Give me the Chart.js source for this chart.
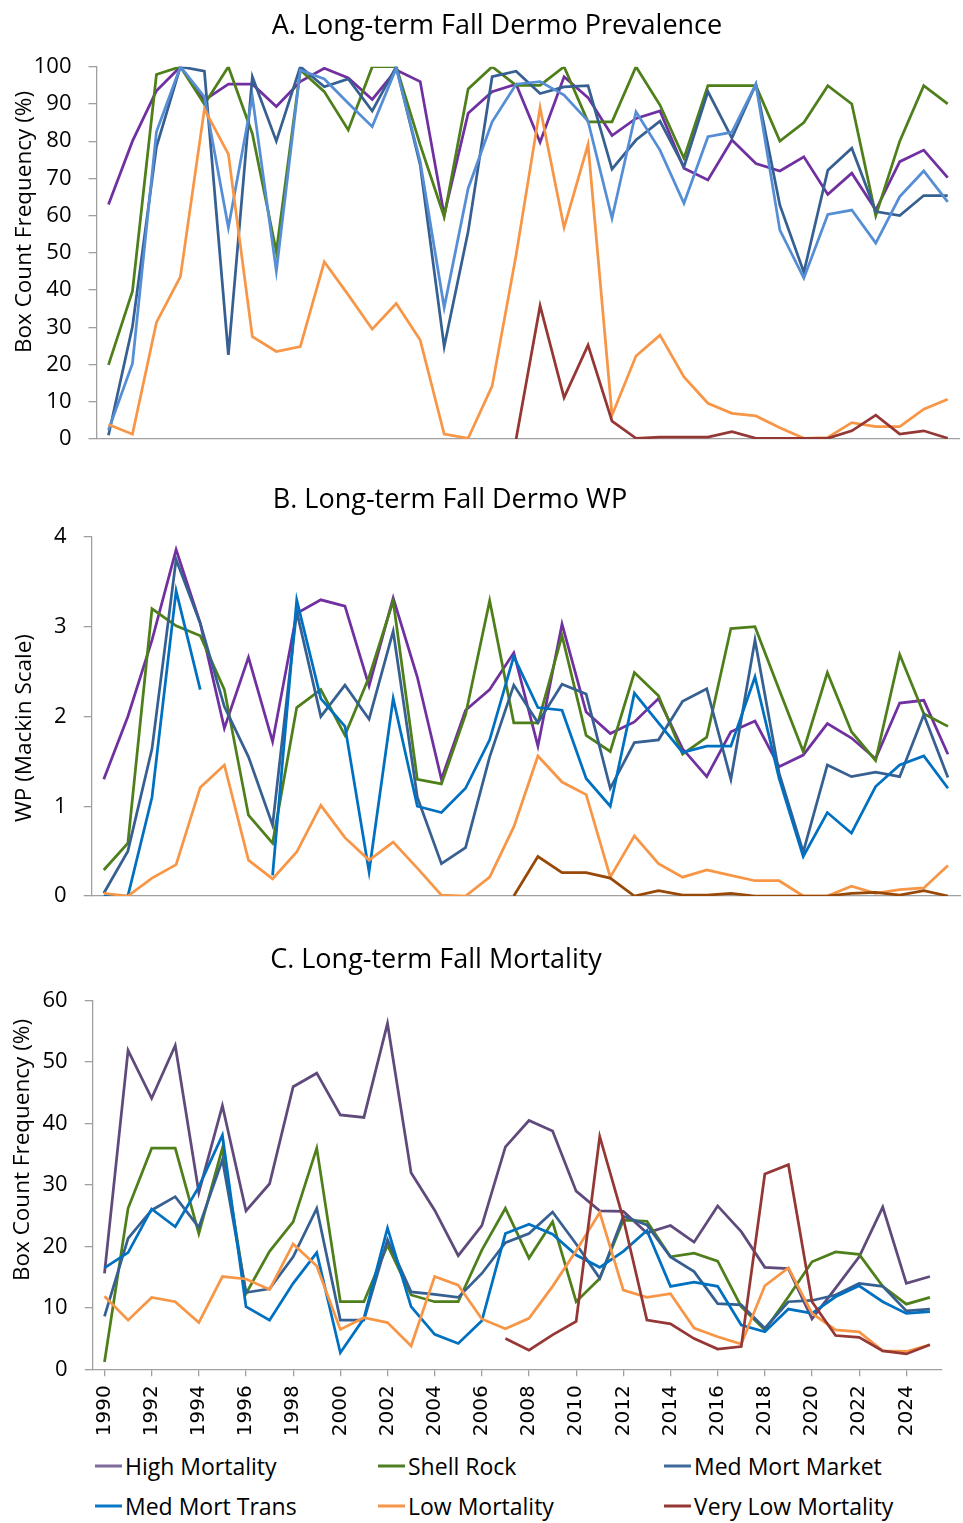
<!DOCTYPE html>
<html>
<head>
<meta charset="utf-8">
<script src="https://cdn.jsdelivr.net/npm/chart.js@4.4.1/dist/chart.umd.min.js"></script>
<style>
  body { margin: 0; background: #fff; }
  #page { position: relative; width: 963px; height: 1523px; font-family: 'Open Sans', sans-serif; color: #000; overflow: hidden; }
  .panel { position: absolute; left: 0; width: 963px; }
  .title { position: absolute; font-size: 27px; white-space: nowrap; line-height: 1; transform: translate(-50%, -50%); }
  .ytitle { position: absolute; font-size: 22.5px; white-space: nowrap; line-height: 1; transform: translate(-50%, -50%) rotate(-90deg); }
  .leg { position: absolute; display: flex; align-items: center; font-size: 23px; line-height: 1; white-space: nowrap; transform: translateY(-50%); }
  .leg .sw { display: inline-block; width: 27px; height: 3px; margin-right: 3px; }
</style>
</head>
<body>
<div id="page">
  <div class="panel" style="top:0px; height:479px;"><canvas id="chartA"></canvas></div>
  <div class="panel" style="top:480px; height:456px;"><canvas id="chartB"></canvas></div>
  <div class="panel" style="top:940px; height:500px;"><canvas id="chartC"></canvas></div>

  <div class="title" style="left:497px; top:23px;">A. Long-term Fall Dermo Prevalence</div>
  <div class="title" style="left:450px; top:497px;">B. Long-term Fall Dermo WP</div>
  <div class="title" style="left:436px; top:957px;">C. Long-term Fall Mortality</div>
  <div class="ytitle" style="left:23px; top:222px;">Box Count Frequency (%)</div>
  <div class="ytitle" style="left:23px; top:728px;">WP (Mackin Scale)</div>
  <div class="ytitle" style="left:21px; top:1150px;">Box Count Frequency (%)</div>
  <div id="legend"></div>
</div>

<script>
// categories
const years = ['1990', '1991', '1992', '1993', '1994', '1995', '1996', '1997', '1998', '1999',
               '2000', '2001', '2002', '2003', '2004', '2005', '2006', '2007', '2008', '2009',
               '2010', '2011', '2012', '2013', '2014', '2015', '2016', '2017', '2018', '2019',
               '2020', '2021', '2022', '2023', '2024', '2025'];

const seriesNames = ['High Mortality', 'Shell Rock', 'Med Mort Market', 'Med Mort Trans', 'Low Mortality', 'Very Low Mortality'];

// A. prevalence (%)
const highA = [63, 80, 93.5, 100, 91, 95.3, 95.3, 89.3, 96, 99.6, 97, 91.2, 99.1, 96, 60.2, 87.5, 93.3, 95.3,
               79.7, 97.3, 91.7, 81.5, 86.1, 88.1, 72.7, 69.6, 80.3, 74, 72, 75.8, 65.7, 71.4, 61.5, 74.5, 77.6, 70.2];
const shellA = [19.9, 39.7, 97.9, 100, 89.9, 100, 82, 50.3, 99.1, 93.3, 83, 100, 100, 79, 59.7, 94, 100, 95,
                95, 100, 85.2, 85.2, 100, 89.7, 75.4, 94.9, 94.9, 94.9, 80, 85, 94.9, 90, 60, 80, 94.9, 90];
const marketA = [1, 30.2, 78.5, 100, 98.8, 22.6, 97.3, 80, 100, 94.6, 96.7, 88.1, 100, 73.6, 24.8, 55.7, 97.3, 98.8,
                 92.8, 94.6, 94.9, 72.5, 80.3, 85.4, 73.1, 93.3, 80.8, 95.3, 62.8, 44.8, 72.2, 78.1, 61.1, 60, 65.4, 65.4];
const transA = [2.4, 20.3, 82.5, 100, 91.9, 56.8, 91.9, 45.1, 99.1, 96.7, 90.2, 83.9, 99.6, 74.5, 35.3, 67.3, 85.2, 95.3,
                96, 92.4, 85.4, 59.3, 87.9, 77.6, 63.3, 81.2, 82.4, 95.3, 56.1, 43.2, 60.3, 61.5, 52.6, 65.1, 72, 63.7];
const lowA = [3.9, 1.3, 31.3, 43.6, 88.6, 76.5, 27.5, 23.5, 24.8, 47.6, 38.7, 29.5, 36.4, 26.6, 1.3, 0.2, 14.2, 49.4,
              89, 56.8, 79.1, 6.4, 22.3, 27.9, 16.7, 9.6, 6.9, 6.2, 3, 0.2, 0.4, 4.4, 3.3, 3.3, 8, 10.7];
const veryLowA = [null, null, null, null, null, null, null, null, null, null, null, null, null, null, null, null, null, 0,
                  35.8, 11.1, 25.2, 4.8, 0.2, 0.5, 0.5, 0.5, 2, 0.2, 0.2, 0.2, 0.2, 2.2, 6.4, 1.3, 2.2, 0.2];

// B. weighted prevalence (Mackin scale)
const highB = [1.30, 2.0, 2.85, 3.86, 3.04, 1.87, 2.66, 1.72, 3.15, 3.30, 3.23, 2.34, 3.32, 2.44, 1.30, 2.07, 2.30, 2.71,
               1.67, 3.03, 2.05, 1.81, 1.94, 2.20, 1.64, 1.33, 1.83, 1.95, 1.44, 1.57, 1.92, 1.76, 1.53, 2.15, 2.18, 1.58];
const shellB = [0.29, 0.59, 3.20, 3.01, 2.90, 2.30, 0.90, 0.59, 2.10, 2.30, 1.79, 2.44, 3.29, 1.30, 1.25, 2.02, 3.29, 1.93,
                1.93, 2.90, 1.79, 1.61, 2.49, 2.23, 1.58, 1.77, 2.98, 3.00, 2.30, 1.61, 2.49, 1.83, 1.51, 2.69, 2.03, 1.89];
const marketB = [0.03, 0.50, 1.64, 3.75, 3.04, 2.11, 1.55, 0.79, 3.17, 2.0, 2.35, 1.97, 2.95, 1.10, 0.36, 0.54, 1.55, 2.35,
                 1.93, 2.36, 2.25, 1.20, 1.71, 1.74, 2.17, 2.31, 1.30, 2.85, 1.37, 0.49, 1.46, 1.33, 1.38, 1.33, 2.02, 1.32];
const transB = [0, 0, 1.10, 3.40, 2.30, null, null, 0.23, 3.30, 2.20, 1.89, 0.27, 2.20, 1.00, 0.93, 1.20, 1.74, 2.67,
                2.10, 2.07, 1.31, 1.00, 2.26, 1.93, 1.60, 1.67, 1.67, 2.44, 1.31, 0.44, 0.93, 0.70, 1.22, 1.46, 1.56, 1.20];
const lowB = [0.03, 0, 0.20, 0.35, 1.21, 1.46, 0.40, 0.19, 0.49, 1.01, 0.65, 0.40, 0.60, 0.31, 0.01, 0, 0.21, 0.77,
              1.56, 1.27, 1.13, 0.21, 0.67, 0.36, 0.21, 0.29, 0.23, 0.17, 0.17, 0, 0, 0.11, 0.03, 0.07, 0.09, 0.34];
const veryLowB = [null, null, null, null, null, null, null, null, null, null, null, null, null, null, null, null, null, 0,
                  0.44, 0.26, 0.26, 0.20, 0, 0.06, 0.01, 0.01, 0.03, 0, 0, 0, 0, 0.03, 0.04, 0.01, 0.06, 0];

// C. mortality (%)
const highC = [15.6, 51.9, 44.1, 52.7, 28.8, 42.9, 25.8, 30.2, 46.0, 48.2, 41.4, 41.0, 56.3, 32.0, 25.9, 18.5, 23.4, 36.2,
               40.5, 38.8, 29.0, 25.8, 25.7, 22.2, 23.4, 20.7, 26.6, 22.4, 16.6, 16.4, 8.2, 13.2, 18.3, 26.4, 14.0, 15.1];
const shellC = [1.2, 26.2, 36.0, 36.0, 22.1, 36.0, 12.3, 19.2, 24.0, 36.0, 11.0, 11.0, 20.2, 12.1, 11.0, 11.0, 19.4, 26.2,
                18.1, 24.0, 11.0, 14.8, 24.3, 24.1, 18.3, 18.9, 17.6, 10.2, 6.4, 11.8, 17.5, 19.1, 18.7, 13.5, 10.6, 11.7];
const marketC = [8.6, 21.3, 25.9, 28.1, 23.1, 34.1, 12.5, 13.1, 18.3, 26.2, 8.0, 8.0, 21.1, 12.6, 12.2, 11.7, 15.6, 20.6,
                 22.1, 25.6, 20.4, 14.8, 24.9, 23.5, 18.3, 15.9, 10.7, 10.5, 6.7, 11.0, 11.2, 12.1, 14.0, 13.5, 9.5, 9.8];
const transC = [16.5, 19.0, 26.1, 23.2, 29.7, 38.1, 10.2, 8.0, 14.0, 19.0, 2.7, 8.3, 23.0, 10.2, 5.7, 4.2, 7.9, 22.1,
                23.6, 22.0, 18.6, 16.6, 19.2, 22.6, 13.5, 14.2, 13.5, 7.2, 6.1, 9.8, 9.1, 11.8, 13.6, 11.0, 9.1, 9.4];
const lowC = [11.9, 8.0, 11.7, 11.0, 7.6, 15.1, 14.7, 13.0, 20.4, 16.8, 6.5, 8.4, 7.6, 3.8, 15.1, 13.7, 8.2, 6.6,
              8.3, 13.5, 19.3, 25.5, 12.9, 11.7, 12.3, 6.7, 5.3, 4.1, 13.6, 16.5, 9.1, 6.4, 6.1, 3.0, 2.9, 4.0];
const veryLowC = [null, null, null, null, null, null, null, null, null, null, null, null, null, null, null, null, null, 5.0,
                  3.1, 5.6, 7.8, 37.9, 24.5, 8.0, 7.4, 5.0, 3.3, 3.7, 31.8, 33.3, 11.0, 5.5, 5.2, 3.0, 2.5, 4.0];

// colours per panel (same series order as seriesNames)
const colorsA = ['#7030a0', '#4e7f1a', '#376092', '#558ed5', '#f79646', '#953735'];
const colorsB = ['#7030a0', '#4e7f1a', '#376092', '#0070c0', '#f79646', '#984807'];
const colorsC = ['#604a7b', '#4e7f1a', '#376092', '#0070c0', '#f79646', '#953735'];
const legendColors = ['#7f6a9e', '#4f7f23', '#3f6a9a', '#0a78c8', '#f7964a', '#953735'];

const axisGray = '#a0a0a0';
Chart.defaults.font.family = "'Open Sans', sans-serif";
Chart.defaults.color = '#000';

function buildSets(seriesList, colors) {
  return seriesList.map((data, i) => ({
    label: seriesNames[i],
    data: data,
    borderColor: colors[i],
    backgroundColor: colors[i],
    borderWidth: 2.75,
    pointRadius: 0,
    tension: 0,
    spanGaps: false,
    order: seriesList.length - 1 - i   // later series on top, like the original
  }));
}

function panelOptions(p) {
  const x = {
    offset: true,
    border: { display: true, color: axisGray, width: 1.3 },
    grid: { display: false },
    ticks: { display: false },
    // fixed height so the y tick-label padding never moves the plot bottom
    afterFit: s => { s.height = p.xHeight; }
  };
  if (p.showYears) {
    x.grid = {
      display: true,
      drawOnChartArea: false,
      drawTicks: true,
      tickLength: 7,
      lineWidth: 1.3,
      color: ctx => (ctx.index === undefined || ctx.index % 2 === 0) ? axisGray : 'rgba(0,0,0,0)'
    };
    x.ticks = {
      display: true,
      autoSkip: false,
      maxRotation: 90,
      minRotation: 90,
      padding: 9,
      color: '#000',
      font: { family: "'DejaVu Sans', sans-serif", size: 20 },
      callback: function(v, i) { return i % 2 === 0 ? this.getLabelForValue(v) : ''; }
    };
  }
  return {
    responsive: true,
    maintainAspectRatio: false,
    animation: false,
    layout: { padding: { top: p.top, right: p.right, bottom: 0, left: 0 } },
    plugins: { legend: { display: false }, tooltip: { enabled: false } },
    scales: {
      x: x,
      y: {
        min: p.min,
        max: p.max,
        ticks: { stepSize: p.step, padding: 17, color: '#000', font: { size: 22 } },
        grid: { display: true, drawOnChartArea: false, drawTicks: true, tickLength: 8, lineWidth: 1.3, color: axisGray },
        border: { display: true, color: axisGray, width: 1.3 },
        afterFit: s => { s.width = p.yWidth; }
      }
    }
  };
}

new Chart(document.getElementById('chartA'), {
  type: 'line',
  data: { labels: years, datasets: buildSets([highA, shellA, marketA, transA, lowA, veryLowA], colorsA) },
  options: panelOptions({ min: 0, max: 100, step: 10, yWidth: 96.5, top: 66.7, right: 3.3, xHeight: 40 })
});

new Chart(document.getElementById('chartB'), {
  type: 'line',
  data: { labels: years, datasets: buildSets([highB, shellB, marketB, transB, lowB, veryLowB], colorsB) },
  options: panelOptions({ min: 0, max: 4, step: 1, yWidth: 91.7, top: 57, right: 3, xHeight: 40 })
});

new Chart(document.getElementById('chartC'), {
  type: 'line',
  data: { labels: years, datasets: buildSets([highC, shellC, marketC, transC, lowC, veryLowC], colorsC) },
  options: panelOptions({ min: 0, max: 60, step: 10, yWidth: 92.7, top: 60.7, right: 6.3, xHeight: 70.7, showYears: true })
});

// legend: 3 columns x 2 rows
const legendCols = [95, 378, 664];
const legendRows = [1466, 1506];
const legendBox = document.getElementById('legend');
seriesNames.forEach((name, i) => {
  const item = document.createElement('div');
  item.className = 'leg';
  item.style.left = legendCols[i % 3] + 'px';
  item.style.top = legendRows[Math.floor(i / 3)] + 'px';
  item.innerHTML = '<span class="sw" style="background:' + legendColors[i] + '"></span>' + name;
  legendBox.appendChild(item);
});
</script>
</body>
</html>
